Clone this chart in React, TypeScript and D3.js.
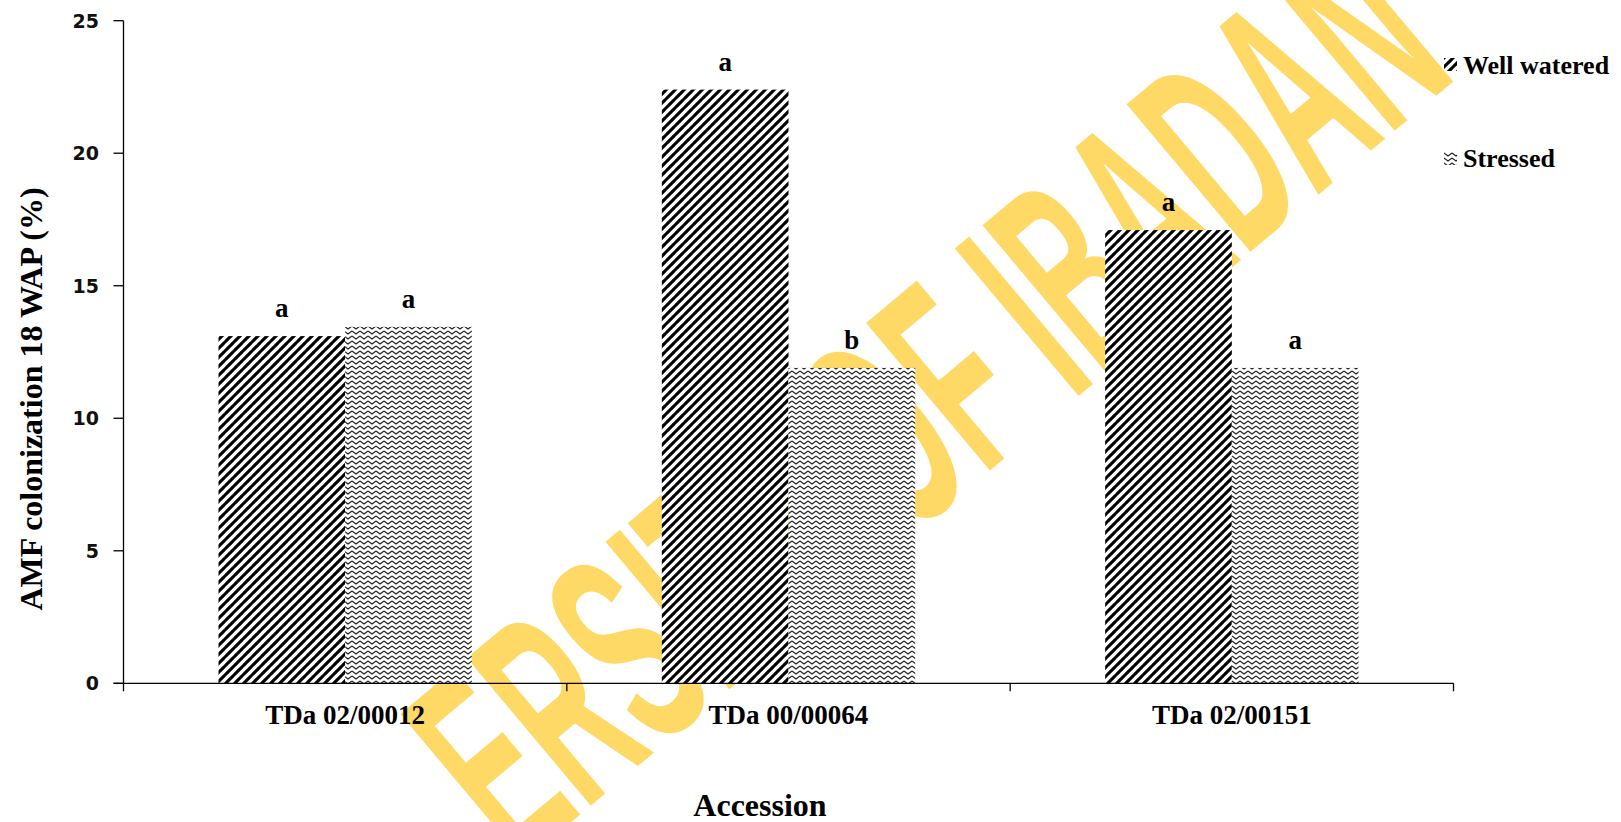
import React, { useMemo } from "react";
import * as d3 from "d3";

const categories = ["TDa 02/00012", "TDa 00/00064", "TDa 02/00151"];
const seriesNames = ["Well watered", "Stressed"];
const wellWatered = [13.1, 22.4, 17.1];
const stressed = [13.45, 11.9, 11.9];
const wellLetters = ["a", "a", "a"];
const stressedLetters = ["a", "b", "a"];
const yTicks = [0, 5, 10, 15, 20, 25];
const yLabel = "AMF colonization 18 WAP (%)";
const xLabel = "Accession";
const watermark = "UNIVERSITY OF IBADAN";

const W = 1621;
const H = 822;
const X0 = 123.5;
const X1 = 1453.5;
const Y0 = 683.3;
const Y1 = 20.7;

const WM_FONT = "'Liberation Sans', Arial, sans-serif";
const WM_SIZE = 280;

function useWatermarkGlyphs() {
  return useMemo(() => {
    const chars = watermark.split("");
    let widths: number[] = chars.map(() => 0.65 * WM_SIZE);
    try {
      const ctx = document.createElement("canvas").getContext("2d");
      if (ctx) {
        ctx.font = `bold ${WM_SIZE}px ${WM_FONT}`;
        widths = chars.map((c) => ctx.measureText(c).width);
      }
    } catch (e) {}
    const eIdx = 4; // "E"
    const dIdx = chars.length - 3; // "D"
    const cum: number[] = [];
    let acc = 0;
    widths.forEach((w) => {
      cum.push(acc);
      acc += w;
    });
    const eC = cum[eIdx] + widths[eIdx] / 2;
    const dC = cum[dIdx] + widths[dIdx] / 2;
    const E = [486, 762];
    const D = [1215, 150];
    const dist = Math.hypot(D[0] - E[0], D[1] - E[1]);
    const sx = dist / (dC - eC);
    const theta0 = Math.atan2(D[1] - E[1], D[0] - E[0]);
    const k = (0.5 * Math.PI) / 180; // bend per px before "E"
    const lift = 0.36 * WM_SIZE;
    const up0 = [Math.sin(theta0), -Math.cos(theta0)];
    const baseE = [E[0] - up0[0] * lift, E[1] - up0[1] * lift];
    const sE = eC * sx;
    const angleAt = (s: number) => (s >= sE ? theta0 : theta0 - k * (sE - s));
    const pointAt = (s: number) => {
      if (s >= sE) {
        return [baseE[0] + Math.cos(theta0) * (s - sE), baseE[1] + Math.sin(theta0) * (s - sE)];
      }
      let p = [baseE[0], baseE[1]];
      const steps = 60;
      const ds = (sE - s) / steps;
      for (let j = 0; j < steps; j++) {
        const a = angleAt(sE - (j + 0.5) * ds);
        p = [p[0] - Math.cos(a) * ds, p[1] - Math.sin(a) * ds];
      }
      return p;
    };
    return chars.map((c, i) => {
      const s = (cum[i] + widths[i] / 2) * sx;
      const p = pointAt(s);
      return { c, x: p[0], y: p[1], rot: (angleAt(s) * 180) / Math.PI, sx };
    });
  }, []);
}

export default function App() {
  const x = d3.scaleBand<string>().domain(categories).range([X0, X1]).paddingInner(0).paddingOuter(0);
  const xs = d3.scaleBand<string>().domain(seriesNames).range([0, x.bandwidth()]).paddingInner(0).paddingOuter(0.75);
  const y = d3.scaleLinear().domain([0, 25]).range([Y0, Y1]);
  const glyphs = useWatermarkGlyphs();

  const series = [
    { name: seriesNames[0], values: wellWatered, letters: wellLetters, fill: "url(#diagPat)" },
    { name: seriesNames[1], values: stressed, letters: stressedLetters, fill: "url(#zigPat)" },
  ];

  const serif = "'Liberation Serif', 'Times New Roman', serif";
  const boundaries = [...categories.map((c) => x(c) as number), X1];

  return (
    <svg width={W} height={H} style={{ position: "fixed", left: 0, top: 0, background: "#fff" }}>
      <defs>
        <pattern id="diagPat" patternUnits="userSpaceOnUse" width="9" height="9">
          <rect width="9" height="9" fill="#fff" />
          <path d="M-1,10 L10,-1 M-1,1 L1,-1 M8,10 L10,8" stroke="#000" strokeWidth="3.1" />
        </pattern>
        <pattern id="zigPat" patternUnits="userSpaceOnUse" width="8" height="5">
          <rect width="8" height="5" fill="#fff" />
          <path d="M0,1 L4,4 L8,1" stroke="#222" strokeWidth="1.1" fill="none" />
        </pattern>
      </defs>
      <rect width={W} height={H} fill="#fff" />
      <g fill="#FFD966" fontFamily={WM_FONT} fontWeight="bold" fontSize={WM_SIZE}>
        {glyphs.map((g, i) => (
          <text key={i} textAnchor="middle" transform={`translate(${g.x},${g.y}) rotate(${g.rot}) scale(${g.sx},1)`}>
            {g.c}
          </text>
        ))}
      </g>

      {series.map((s) => (
        <g key={s.name}>
          {categories.map((c, i) => {
            const bx = (x(c) as number) + (xs(s.name) as number);
            return (
              <g key={c}>
                <rect x={bx} y={y(s.values[i])} width={xs.bandwidth()} height={Y0 - y(s.values[i])} fill={s.fill} />
                <text x={bx + xs.bandwidth() / 2} y={y(s.values[i]) - 19} textAnchor="middle" fontFamily={serif} fontWeight="bold" fontSize={27}>
                  {s.letters[i]}
                </text>
              </g>
            );
          })}
        </g>
      ))}

      {/* y axis */}
      <line x1={X0} x2={X0} y1={Y1} y2={Y0} stroke="#000" strokeWidth={1.3} />
      {yTicks.map((t) => (
        <g key={t}>
          <line x1={X0 - 10} x2={X0} y1={y(t)} y2={y(t)} stroke="#000" strokeWidth={1.3} />
          <text x={99} y={y(t) + 7} textAnchor="end" fontFamily="'DejaVu Sans', sans-serif" fontWeight="bold" fontSize={19} fill="#111">
            {t}
          </text>
        </g>
      ))}
      {/* x axis */}
      <line x1={X0 - 10} x2={X1} y1={Y0} y2={Y0} stroke="#000" strokeWidth={1.3} />
      {boundaries.map((b, i) => (
        <line key={i} x1={b} x2={b} y1={Y0} y2={Y0 + 8} stroke="#000" strokeWidth={1.3} />
      ))}
      {categories.map((c) => (
        <text key={c} x={(x(c) as number) + x.bandwidth() / 2} y={724} textAnchor="middle" fontFamily={serif} fontWeight="bold" fontSize={27}>
          {c}
        </text>
      ))}
      <text x={760} y={816} textAnchor="middle" fontFamily={serif} fontWeight="bold" fontSize={32}>
        {xLabel}
      </text>
      <text transform={`translate(42,399) rotate(-90)`} textAnchor="middle" fontFamily={serif} fontWeight="bold" fontSize={32}>
        {yLabel}
      </text>

      {/* legend */}
      {series.map((s, i) => (
        <g key={s.name} transform={`translate(1444,${[58, 152][i]})`}>
          <rect width={13} height={13} fill={s.fill} />
          <text x={19} y={[16, 15][i]} fontFamily={serif} fontWeight="bold" fontSize={26}>
            {s.name}
          </text>
        </g>
      ))}
    </svg>
  );
}
